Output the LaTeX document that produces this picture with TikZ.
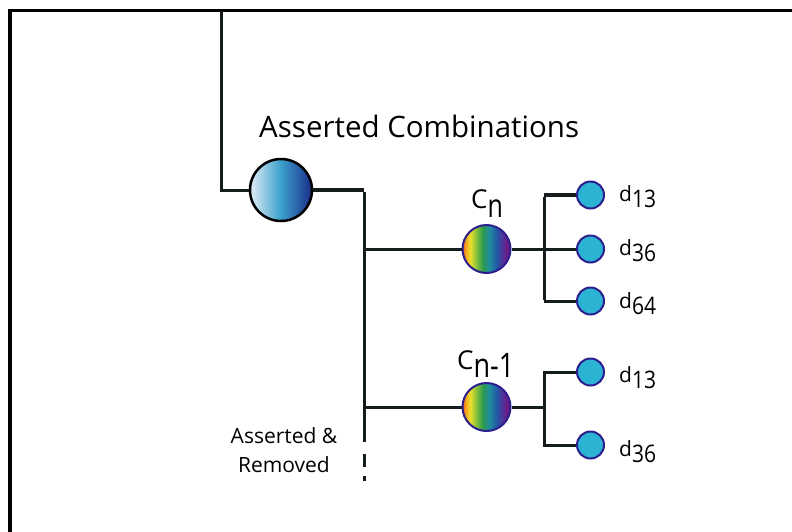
\documentclass[tikz,border=0pt]{standalone}
\usepackage{fontspec}
\setmainfont{Open Sans}

% colours
\definecolor{wire}{HTML}{141C1E}
\definecolor{dotfill}{HTML}{2BB3D3}
\definecolor{dotrim}{HTML}{2C1E8E}
\definecolor{ballA}{HTML}{E2EEF6}
\definecolor{ballB}{HTML}{3A9FCB}
\definecolor{ballC}{HTML}{1A2C8A}
\definecolor{rbA}{HTML}{E8521E}
\definecolor{rbB}{HTML}{F2A020}
\definecolor{rbC}{HTML}{EEE02A}
\definecolor{rbD}{HTML}{8CC43A}
\definecolor{rbE}{HTML}{2E9A4C}
\definecolor{rbF}{HTML}{1E8CA0}
\definecolor{rbG}{HTML}{2456A6}
\definecolor{rbH}{HTML}{5A2A92}
\definecolor{rbI}{HTML}{7A0A78}

% left-to-right gradients (path box maps onto 25bp..75bp)
\pgfdeclarehorizontalshading{bigball}{100bp}{color(0bp)=(ballA); color(25bp)=(ballA);
  color(50bp)=(ballB); color(75bp)=(ballC); color(100bp)=(ballC)}
\pgfdeclarehorizontalshading{rainbow}{100bp}{color(0bp)=(rbA); color(25bp)=(rbA);
  color(28bp)=(rbB); color(33bp)=(rbC); color(39bp)=(rbD); color(46bp)=(rbE);
  color(53bp)=(rbF); color(61bp)=(rbG); color(68bp)=(rbH); color(75bp)=(rbI); color(100bp)=(rbI)}

\tikzset{
  x=1pt, y=-1pt,
  wireline/.style={draw=wire, line width=3pt},
  heavywire/.style={draw=wire, line width=4pt},
  rootball/.style={circle, minimum size=62pt, inner sep=0pt, shading=bigball, draw=black, line width=2.5pt},
  comboball/.style={circle, minimum size=48pt, inner sep=0pt, shading=rainbow, draw=dotrim, line width=2pt},
  leafdot/.style={circle, minimum size=27pt, inner sep=0pt, fill=dotfill, draw=dotrim, line width=2pt},
  leaflabel/.style={anchor=base west, font=\fontsize{21}{24}\selectfont, inner sep=0pt},
  combolabel/.style={anchor=base west, font=\fontsize{26}{30}\selectfont, inner sep=0pt},
}
% index set below the line, stretched upright
\newcommand{\idx}[3]{\raisebox{-#1pt}{\scalebox{1}[#2]{#3}}}

\begin{document}
\begin{tikzpicture}
\useasboundingbox (0,0) rectangle (792,531);
\begin{scope}
\clip (0,0) rectangle (792,531);
% frame
\draw[draw=black, line width=3.5pt] (10,540) -- (10,10.5) -- (800,10.5);
\end{scope}

% nodes
\node[rootball] (root) at (281,190) {};
\node[comboball] (cn) at (486.5,249) {};
\node[comboball] (cm) at (486.5,407) {};
\node[leafdot] (a1) at (590.5,195) {};
\node[leafdot] (a2) at (590.5,249) {};
\node[leafdot] (a3) at (590.5,301) {};
\node[leafdot] (b1) at (590.5,372) {};
\node[leafdot] (b2) at (590.5,445) {};

% junction points
\coordinate (top) at (221,10.5);
\coordinate (elbow) at (364,190);
\coordinate (trunkend) at (364,442);
\coordinate (dashstart) at (364,454);
\coordinate (dashend) at (364,481);
\coordinate (ja) at (364,249);
\coordinate (jb) at (364,407);
\coordinate (fa) at (544,249);
\coordinate (fb) at (544,407);
\coordinate (fatop) at (544,195);
\coordinate (fabot) at (544,301);

% labels
\node[anchor=base west, font=\fontsize{29.5}{32}\selectfont, inner sep=0pt] (title) at (259,137) {Asserted Combinations};
\node[combolabel] (cnlab) at (471,208) {C\idx{9}{1.3}{\fontsize{25}{28}\selectfont n}};
\node[combolabel] (cmlab) at (457,369) {C\idx{8}{1.25}{\fontsize{27}{30}\selectfont n-1}};
\node[leaflabel] (la1) at (619,201) {d\idx{6}{1.15}{13}};
\node[leaflabel] (la2) at (619,255) {d\idx{6}{1.15}{36}};
\node[leaflabel] (la3) at (619,308) {d\idx{6}{1.15}{64}};
\node[leaflabel] (lb1) at (619,382) {d\idx{6}{1.15}{13}};
\node[leaflabel] (lb2) at (619,456) {d\idx{6}{1.15}{36}};
\node[align=center, font=\fontsize{21}{29}\selectfont, inner sep=0pt, anchor=base] (removed) at (284,472) {Asserted \&\\Removed};

% connectors
\draw[wireline] (top) |- (root.west);
\draw[heavywire] (root.east) -- (elbow);
\draw[wireline] ([yshift=-1.5pt]elbow) -- (trunkend);
\draw[wireline, dash pattern=on 13pt off 9pt] (dashstart) -- (dashend);
\draw[wireline] (ja) -- (cn.west);
\draw[wireline] (jb) -- (cm.west);
\draw[wireline] (cn.east) -- (fa);
\draw[wireline] (cm.east) -- (fb);
\draw[wireline] ([yshift=-1.5pt]fatop) -- ([yshift=1.5pt]fabot);
\draw[heavywire] (fatop) -- (a1.west);
\draw[wireline] (fa) -- (a2.west);
\draw[wireline] (fabot) -- (a3.west);
\draw[wireline] (fb) |- (b1.west);
\draw[wireline] (fb) |- (b2.west);
\end{tikzpicture}
\end{document}
